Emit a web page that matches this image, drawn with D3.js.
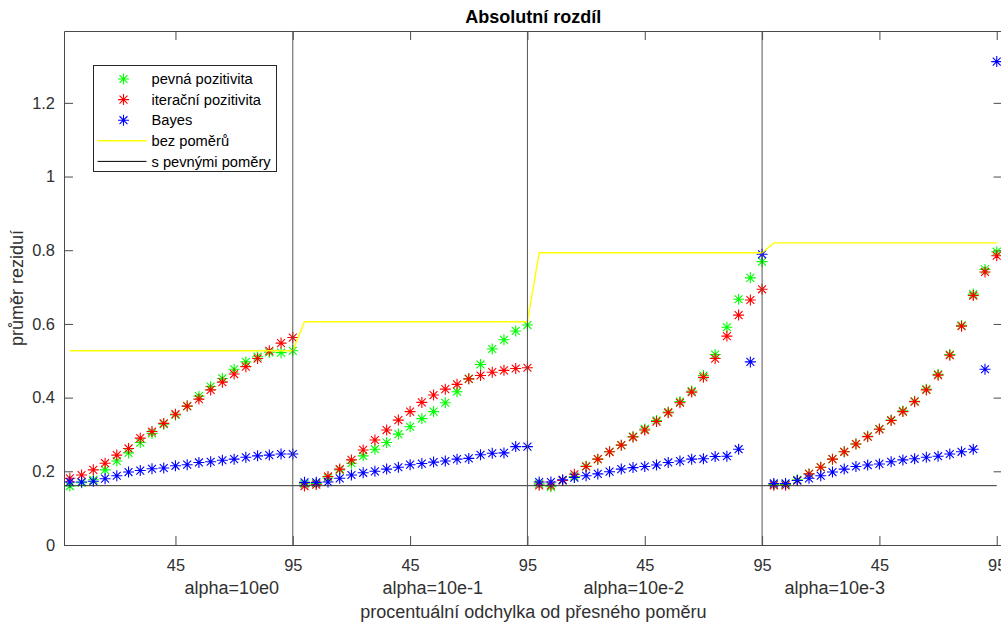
<!DOCTYPE html>
<html>
<head>
<meta charset="utf-8">
<script src="https://cdn.jsdelivr.net/npm/d3@7"></script>
<style>
  body { margin: 0; background: #fff; }
  svg { display: block; font-family: Arial, "Liberation Sans", sans-serif; }
</style>
</head>
<body>
<svg id="chart" width="1001" height="623"></svg>
<script>
// procentualni odchylka (one block of 20 points per alpha)
var odchylka = [0, 5, 10, 15, 20, 25, 30, 35, 40, 45, 50, 55, 60, 65, 70, 75, 80, 85, 90, 95];
var alphaPopisky = ['alpha=10e0', 'alpha=10e-1', 'alpha=10e-2', 'alpha=10e-3'];

// pevna pozitivita (green)
var pevnaPozitivita = [
  0.160, 0.169, 0.177, 0.204, 0.228, 0.250, 0.278, 0.303, 0.328, 0.353, 0.377, 0.404, 0.430, 0.452, 0.477, 0.497, 0.511, 0.523, 0.522, 0.527,
  0.166, 0.167, 0.182, 0.204, 0.222, 0.242, 0.260, 0.278, 0.301, 0.321, 0.343, 0.362, 0.386, 0.416, 0.451, 0.490, 0.532, 0.557, 0.581, 0.597,
  0.166, 0.158, 0.175, 0.186, 0.214, 0.233, 0.253, 0.271, 0.294, 0.315, 0.338, 0.361, 0.389, 0.418, 0.460, 0.517, 0.591, 0.667, 0.725, 0.769,
  0.164, 0.164, 0.177, 0.193, 0.211, 0.233, 0.253, 0.274, 0.295, 0.315, 0.339, 0.364, 0.390, 0.423, 0.463, 0.517, 0.596, 0.681, 0.748, 0.796
];
// iteracni pozitivita (red)
var iteracniPozitivita = [
  0.181, 0.190, 0.204, 0.222, 0.244, 0.262, 0.290, 0.308, 0.330, 0.355, 0.377, 0.396, 0.421, 0.442, 0.464, 0.484, 0.506, 0.527, 0.548, 0.563,
  0.160, 0.164, 0.186, 0.206, 0.231, 0.258, 0.285, 0.312, 0.339, 0.362, 0.387, 0.407, 0.423, 0.436, 0.451, 0.460, 0.469, 0.474, 0.479, 0.481,
  0.162, 0.162, 0.175, 0.192, 0.213, 0.233, 0.253, 0.271, 0.293, 0.312, 0.335, 0.359, 0.386, 0.415, 0.455, 0.506, 0.567, 0.624, 0.665, 0.694,
  0.162, 0.162, 0.175, 0.193, 0.211, 0.233, 0.253, 0.274, 0.294, 0.314, 0.338, 0.362, 0.389, 0.421, 0.461, 0.515, 0.594, 0.677, 0.741, 0.785
];
// Bayes (blue)
var bayes = [
  0.171, 0.171, 0.173, 0.180, 0.188, 0.198, 0.202, 0.207, 0.209, 0.215, 0.218, 0.224, 0.226, 0.230, 0.233, 0.238, 0.242, 0.244, 0.247, 0.247,
  0.170, 0.170, 0.171, 0.181, 0.190, 0.196, 0.200, 0.206, 0.211, 0.218, 0.221, 0.225, 0.228, 0.233, 0.235, 0.245, 0.249, 0.250, 0.267, 0.267,
  0.171, 0.171, 0.177, 0.183, 0.188, 0.193, 0.199, 0.206, 0.210, 0.213, 0.217, 0.224, 0.228, 0.233, 0.234, 0.240, 0.241, 0.260, 0.497, 0.789,
  0.167, 0.167, 0.175, 0.181, 0.188, 0.198, 0.206, 0.213, 0.217, 0.220, 0.226, 0.231, 0.234, 0.238, 0.241, 0.247, 0.253, 0.260, 0.477, 1.312
];
// bez pomeru: one level per alpha block
var bezPomeru = [0.527, 0.606, 0.793, 0.820];
// s pevnymi pomery: constant level
var sPevnymiPomery = 0.161;

var svg = d3.select('#chart');
var W = 1001, H = 623;
var plotLeft = 64, plotTop = 31, plotBottom = 545;
var plotRight = 1002.6;
var n = odchylka.length * alphaPopisky.length;

var x = d3.scaleLinear().domain([0.5, n + 0.5]).range([plotLeft, plotRight]);
var y = d3.scaleLinear().domain([0, 1.395]).range([plotBottom, plotTop]);

svg.append('rect').attr('width', W).attr('height', H).attr('fill', '#fff');

var axisColor = '#4a4a4a';
var textColor = '#303030';

// axes
var tickIdx = d3.range(10, n + 1, 10);
var tickLabel = function(d){ return odchylka[(d - 1) % odchylka.length]; };

var gx = svg.append('g').attr('transform', 'translate(0,' + plotBottom + ')')
  .call(d3.axisBottom(x).tickValues(tickIdx).tickFormat(tickLabel).tickSizeInner(-9).tickSizeOuter(0).tickPadding(14));
var gxTop = svg.append('g').attr('transform', 'translate(0,' + plotTop + ')')
  .call(d3.axisTop(x).tickValues(tickIdx).tickFormat('').tickSizeInner(-9).tickSizeOuter(0));
var gy = svg.append('g').attr('transform', 'translate(' + plotLeft + ',0)')
  .call(d3.axisLeft(y).tickValues([0, 0.2, 0.4, 0.6, 0.8, 1, 1.2]).tickFormat(d3.format('~g')).tickSizeInner(-9).tickSizeOuter(0).tickPadding(9));
var gyRight = svg.append('g').attr('transform', 'translate(' + plotRight + ',0)')
  .call(d3.axisRight(y).tickValues([0, 0.2, 0.4, 0.6, 0.8, 1, 1.2]).tickFormat('').tickSizeInner(-9).tickSizeOuter(0));

[gx, gxTop, gy, gyRight].forEach(function(g){
  g.select('.domain').attr('stroke', axisColor);
  g.selectAll('.tick line').attr('stroke', axisColor);
  g.selectAll('.tick text').attr('fill', textColor).style('font-size', '16.4px').style('font-family', 'Arial, "Liberation Sans", sans-serif');
});

// plot clip
svg.append('clipPath').attr('id', 'plotClip')
  .append('rect').attr('x', plotLeft).attr('y', plotTop).attr('width', plotRight - plotLeft).attr('height', plotBottom - plotTop);

var plot = svg.append('g');

// asterisk marker (MATLAB '*')
function star(r){
  var d = r * 0.72;
  return 'M' + (-r) + ',0L' + r + ',0M0,' + (-r) + 'L0,' + r +
    'M' + (-d) + ',' + (-d) + 'L' + d + ',' + d + 'M' + (-d) + ',' + d + 'L' + d + ',' + (-d);
}

function drawStars(values, color){
  plot.append('g').selectAll('path')
    .data(values)
    .enter().append('path')
    .attr('d', star(5.5))
    .attr('transform', function(d, i){ return 'translate(' + x(i + 1) + ',' + y(d) + ')'; })
    .attr('stroke', color)
    .attr('stroke-width', 1.1)
    .attr('fill', 'none');
}

drawStars(pevnaPozitivita, '#00ff00');
drawStars(iteracniPozitivita, '#ff0000');
drawStars(bayes, '#0000ff');

// bez pomeru line
var bezData = [];
bezPomeru.forEach(function(v, s){
  odchylka.forEach(function(o, j){ bezData.push({ i: s * odchylka.length + j + 1, v: v }); });
});
var line = d3.line().x(function(d){ return x(d.i); }).y(function(d){ return y(d.v); });
plot.append('path')
  .datum(bezData)
  .attr('d', line)
  .attr('fill', 'none')
  .attr('stroke', '#ffff00')
  .attr('stroke-width', 1.4);

// s pevnymi pomery
plot.append('path')
  .datum([{ i: 0, v: sPevnymiPomery }, { i: n, v: sPevnymiPomery }])
  .attr('d', line)
  .attr('clip-path', 'url(#plotClip)')
  .attr('fill', 'none')
  .attr('stroke', '#333')
  .attr('stroke-width', 1);

// separators between alpha blocks
d3.range(1, alphaPopisky.length).forEach(function(s){
  var xi = s * odchylka.length;
  plot.append('line')
    .attr('x1', x(xi)).attr('x2', x(xi))
    .attr('y1', y.range()[0]).attr('y2', y.range()[1])
    .attr('stroke', '#555')
    .attr('stroke-width', 1);
});

// titles
var cx = (plotLeft + plotRight) / 2;
svg.append('text')
  .attr('x', cx).attr('y', 22.5)
  .attr('text-anchor', 'middle')
  .style('font-size', '18px').style('font-weight', 'bold')
  .attr('fill', '#000')
  .text('Absolutní rozdíl');

alphaPopisky.forEach(function(t, k){
  svg.append('text')
    .attr('x', cx + (k - 1.5) * 201).attr('y', 594)
    .attr('text-anchor', 'middle')
    .style('font-size', '18px')
    .attr('fill', textColor)
    .text(t);
});

svg.append('text')
  .attr('x', cx).attr('y', 618)
  .attr('text-anchor', 'middle')
  .style('font-size', '18px')
  .attr('fill', textColor)
  .text('procentuální odchylka od přesného poměru');

svg.append('text')
  .attr('transform', 'translate(22.5,' + ((plotTop + plotBottom) / 2) + ') rotate(-90)')
  .attr('text-anchor', 'middle')
  .style('font-size', '18px')
  .attr('fill', textColor)
  .text('průměr reziduí');

// legend
var legendItems = [
  { name: 'pevná pozitivita', color: '#00ff00', type: 'star' },
  { name: 'iterační pozitivita', color: '#ff0000', type: 'star' },
  { name: 'Bayes', color: '#0000ff', type: 'star' },
  { name: 'bez poměrů', color: '#ffff00', type: 'line' },
  { name: 's pevnými poměry', color: '#000', type: 'line' }
];
var lg = svg.append('g').attr('transform', 'translate(93.5,65.5)');
lg.append('rect')
  .attr('width', 183).attr('height', 106)
  .attr('fill', '#fff').attr('stroke', '#262626').attr('stroke-width', 1);

legendItems.forEach(function(it, k){
  var yy = 13.5 + k * 20.6;
  if (it.type == 'star'){
    lg.append('path')
      .attr('d', star(5.5))
      .attr('transform', 'translate(30,' + yy + ')')
      .attr('stroke', it.color).attr('stroke-width', 1.1).attr('fill', 'none');
  } else {
    lg.append('line')
      .attr('x1', 4).attr('x2', 53).attr('y1', yy).attr('y2', yy)
      .attr('stroke', it.color).attr('stroke-width', it.color == '#000' ? 1 : 1.4);
  }
  lg.append('text')
    .attr('x', 58).attr('y', yy)
    .attr('dy', '0.35em')
    .style('font-size', '14.7px')
    .attr('fill', '#000')
    .text(it.name);
});
</script>
</body>
</html>
